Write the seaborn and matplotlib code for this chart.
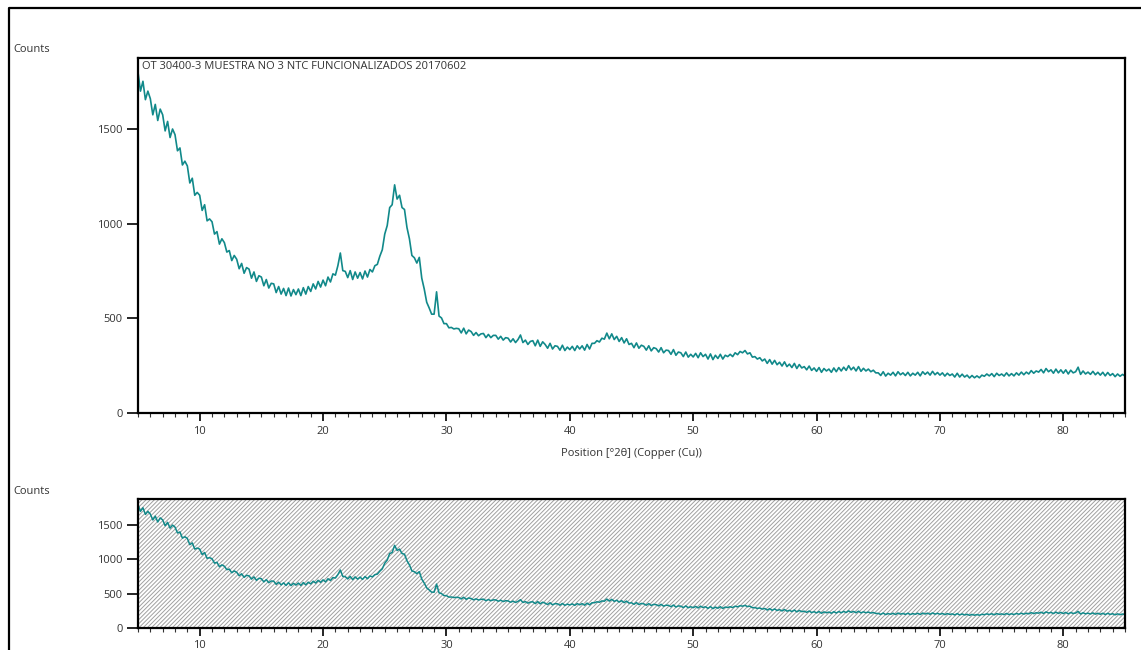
import matplotlib
matplotlib.use("Agg")
import matplotlib.pyplot as plt
from matplotlib.lines import Line2D
from matplotlib.ticker import MultipleLocator
import numpy as np
import pandas as pd
import seaborn as sns

# ---------------- data ----------------
start_angle = 5.0
step_angle = 0.2
counts = [
    1800, 1700, 1752, 1655, 1700,
    1660, 1575, 1630, 1545, 1605,
    1575, 1490, 1540, 1455, 1500,
    1470, 1385, 1400, 1310, 1330,
    1305, 1215, 1240, 1150, 1165,
    1150, 1070, 1100, 1015, 1025,
    1010, 945, 958, 892, 920,
    900, 850, 858, 805, 832,
    812, 762, 790, 738, 768,
    760, 712, 745, 695, 725,
    718, 672, 705, 660, 685,
    682, 636, 668, 628, 658,
    620, 660, 618, 652, 625,
    655, 620, 662, 628, 668,
    642, 682, 655, 695, 665,
    702, 672, 718, 692, 735,
    728, 778, 845, 752, 748,
    715, 752, 705, 745, 712,
    742, 708, 750, 718, 758,
    745, 778, 785, 828, 862,
    945, 990, 1085, 1100, 1205,
    1130, 1150, 1085, 1075, 980,
    920, 832, 820, 792, 822,
    712, 655, 585, 555, 522,
    522, 640, 512, 502, 472,
    472, 450, 452, 444, 447,
    445, 423, 448, 418, 438,
    430, 410, 425, 408, 418,
    420, 398, 415, 398, 410,
    410, 390, 405, 385, 398,
    395, 375, 392, 372, 388,
    412, 372, 385, 362, 378,
    382, 355, 385, 352, 376,
    362, 342, 368, 338, 355,
    352, 332, 358, 330, 348,
    335, 352, 330, 355, 338,
    355, 332, 362, 338, 368,
    368, 382, 375, 395, 390,
    422, 392, 418, 388, 405,
    378, 398, 370, 392, 362,
    368, 345, 370, 342, 358,
    352, 332, 355, 328, 345,
    340, 322, 345, 318, 332,
    330, 310, 335, 305, 322,
    318, 298, 322, 295, 310,
    296, 315, 292, 318, 298,
    310, 285, 312, 282, 305,
    288, 310, 285, 305, 298,
    310, 298, 318, 308, 325,
    318, 330, 312, 318, 295,
    298, 285, 292, 275, 285,
    262, 282, 258, 278, 255,
    268, 248, 270, 245, 258,
    240, 262, 235, 256, 238,
    245, 228, 248, 225, 238,
    220, 240, 215, 235, 222,
    232, 215, 238, 218, 240,
    222, 242, 225, 250, 228,
    242, 222, 245, 220, 236,
    222, 232, 218, 226, 212,
    212, 198, 218, 195, 210,
    200, 215, 196, 218, 202,
    212, 198, 215, 196, 210,
    200, 215, 196, 218, 204,
    216, 200, 220, 202, 214,
    200, 212, 195, 210, 198,
    206, 190, 210, 190, 205,
    190, 200, 185, 198, 186,
    196, 186, 200, 194, 206,
    196, 208, 192, 210, 198,
    206, 195, 212, 196, 208,
    196, 212, 200, 216, 202,
    216, 206, 224, 210, 222,
    216, 230, 212, 235, 218,
    228, 210, 232, 212, 228,
    210, 228, 206, 226, 212,
    218, 242, 204, 222, 206,
    216, 204, 220, 202, 215,
    200, 215, 196, 214, 198,
    208, 192, 206, 194, 204,
    195,
]
positions = start_angle + step_angle * np.arange(len(counts))

x_ticks = [10, 20, 30, 40, 50, 60, 70, 80]
y_ticks = [0, 500, 1000, 1500]
title_text = "OT 30400-3 MUESTRA NO 3 NTC FUNCIONALIZADOS 20170602"
x_label = "Position [°2θ] (Copper (Cu))"
y_label = "Counts"

df = pd.DataFrame({"pos": positions, "counts": counts})

# ---------------- style ----------------
sns.set_style("white")
plt.rcParams["font.family"] = ["Open Sans", "DejaVu Sans"]
plt.rcParams["hatch.color"] = "#a0a0a0"
plt.rcParams["hatch.linewidth"] = 0.7

line_color = "#11898a"
text_color = "#333333"

W, H = 1141, 650
fig = plt.figure(figsize=(W / 100, H / 100), dpi=100)

def fig_box(x0, y0, x1, y1):
    return [x0 / W, 1 - y1 / H, (x1 - x0) / W, (y1 - y0) / H]

ax1 = fig.add_axes(fig_box(138, 58, 1125, 413))
ax2 = fig.add_axes(fig_box(138, 499, 1125, 628))

for ax, lw in ((ax1, 1.2), (ax2, 1.1)):
    sns.lineplot(data=df, x="pos", y="counts", ax=ax, color=line_color,
                 linewidth=lw, estimator=None, sort=False)
    ax.set_xlim(5, 85)
    ax.set_xticks(x_ticks)
    ax.xaxis.set_minor_locator(MultipleLocator(1))
    ax.set_yticks(y_ticks)
    ax.set_xlabel("")
    ax.set_ylabel("")
    for s in ax.spines.values():
        s.set_linewidth(1.6)
        s.set_color("black")
    ax.tick_params(axis="both", which="major", direction="out", length=6,
                   width=1.2, color="black", labelsize=8, labelcolor=text_color,
                   bottom=True, left=True, pad=3)
    ax.tick_params(axis="x", which="minor", direction="out", length=3,
                   width=0.8, color="#333333", bottom=True)
    ax.tick_params(axis="y", which="major", length=8)

ax1.set_ylim(0, 1875)
ax2.set_ylim(0, 1880)

ax1.set_xlabel(x_label, fontsize=8, color=text_color, labelpad=8)
ax1.text(0.004, 0.992, title_text, transform=ax1.transAxes, ha="left", va="top",
         fontsize=8, color=text_color)

# hatched background in overview panel
ax2.set_facecolor("white")
ax2.add_patch(plt.Rectangle((0, 0), 1, 1, transform=ax2.transAxes, facecolor="white",
                            edgecolor="#a0a0a0", hatch="////////", linewidth=0, zorder=0))

fig.text(13 / W, 1 - 49 / H, y_label, ha="left", va="center", fontsize=8, color=text_color)
fig.text(13 / W, 1 - 491 / H, y_label, ha="left", va="center", fontsize=8, color=text_color)

# outer frame (left and top edges)
fig.add_artist(Line2D([9 / W, 9 / W, 1.0], [0.0, 1 - 8 / H, 1 - 8 / H],
                      transform=fig.transFigure, color="black", linewidth=1.6))

fig.savefig("out.png", dpi=100)
